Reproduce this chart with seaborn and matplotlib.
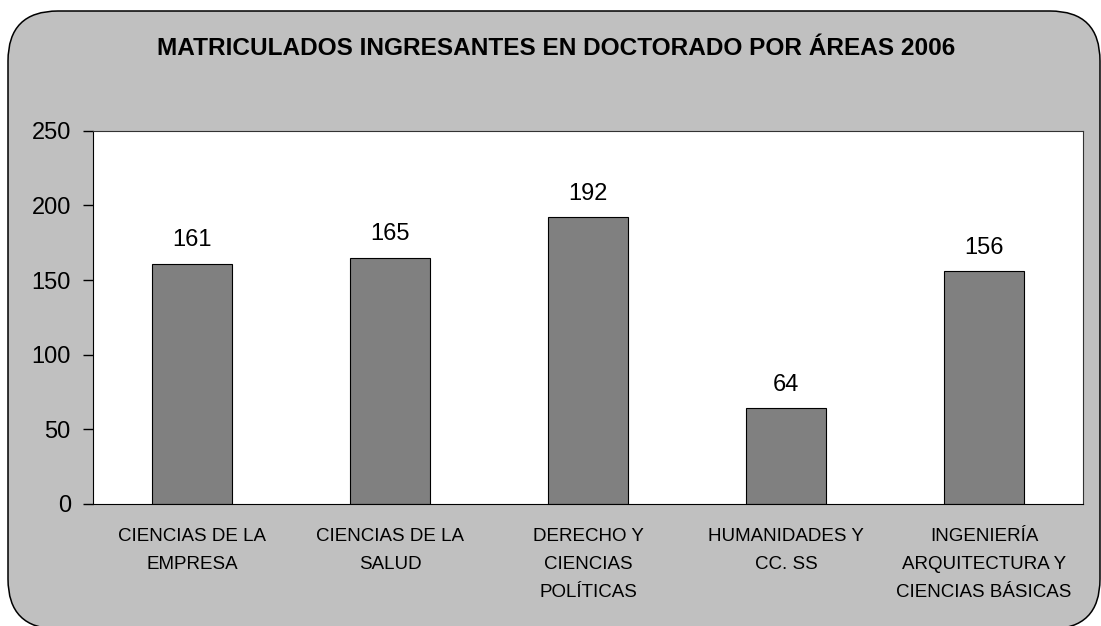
import matplotlib
matplotlib.use("Agg")
import matplotlib.pyplot as plt
import seaborn as sns
from matplotlib.patches import FancyBboxPatch

# Data
areas = [
    "CIENCIAS DE LA\nEMPRESA",
    "CIENCIAS DE LA\nSALUD",
    "DERECHO Y\nCIENCIAS\nPOLÍTICAS",
    "HUMANIDADES Y\nCC. SS",
    "INGENIERÍA\nARQUITECTURA Y\nCIENCIAS BÁSICAS",
]
matriculados = [161, 165, 192, 64, 156]
y_ticks = [0, 50, 100, 150, 200, 250]
title = "MATRICULADOS INGRESANTES EN DOCTORADO POR ÁREAS 2006"

sns.set_style("white")
plt.rcParams['font.family'] = ['Liberation Sans', 'DejaVu Sans']
plt.rcParams['text.color'] = 'black'
plt.rcParams['xtick.color'] = 'black'
plt.rcParams['ytick.color'] = 'black'

fig = plt.figure(figsize=(11.01, 6.26), dpi=100)
fig.patch.set_facecolor('white')

# rounded grey frame behind everything (in inches)
frame = FancyBboxPatch((0.08, -0.03), 10.92, 6.18,
                       boxstyle="round,pad=0,rounding_size=0.5",
                       transform=fig.dpi_scale_trans,
                       facecolor='#C0C0C0', edgecolor='black', linewidth=1.1,
                       zorder=-10)
fig.patches.append(frame)

ax = fig.add_axes([0.0845, 0.1949, 0.8992, 0.5963])
ax.set_facecolor('white')

sns.barplot(x=list(range(len(areas))), y=matriculados, color='#808080',
            saturation=1, width=0.4, edgecolor='black', linewidth=0.8, ax=ax)

for c in ax.containers:
    ax.bar_label(c, padding=9, fontsize=17, color='black')

ax.set_ylim(0, 250)
ax.set_yticks(y_ticks)
ax.set_xlim(-0.5, len(areas) - 0.5)
ax.set_xticks(range(len(areas)))
ax.set_xticklabels(areas, fontsize=13.5, linespacing=1.85)
ax.set_xticks([i - 0.5 for i in range(len(areas) + 1)], minor=True)
ax.tick_params(axis='x', which='major', length=0, pad=17, labelcolor='black')
ax.tick_params(axis='x', which='minor', length=6, width=1, color='black', direction='out')
ax.tick_params(axis='y', length=7, width=1, color='black', direction='out',
               labelsize=17, pad=9, left=True, labelcolor='black')
ax.set_xlabel("")
ax.set_ylabel("")

for s in ax.spines.values():
    s.set_visible(True)
    s.set_color('#333333')
    s.set_linewidth(0.8)
ax.spines['left'].set_color('black')
ax.spines['bottom'].set_color('black')

fig.text(0.5054, 0.922, title, ha='center', va='center', color='black',
         fontsize=17.6, fontweight='bold')

fig.savefig("out.png", dpi=100, facecolor=fig.get_facecolor())
